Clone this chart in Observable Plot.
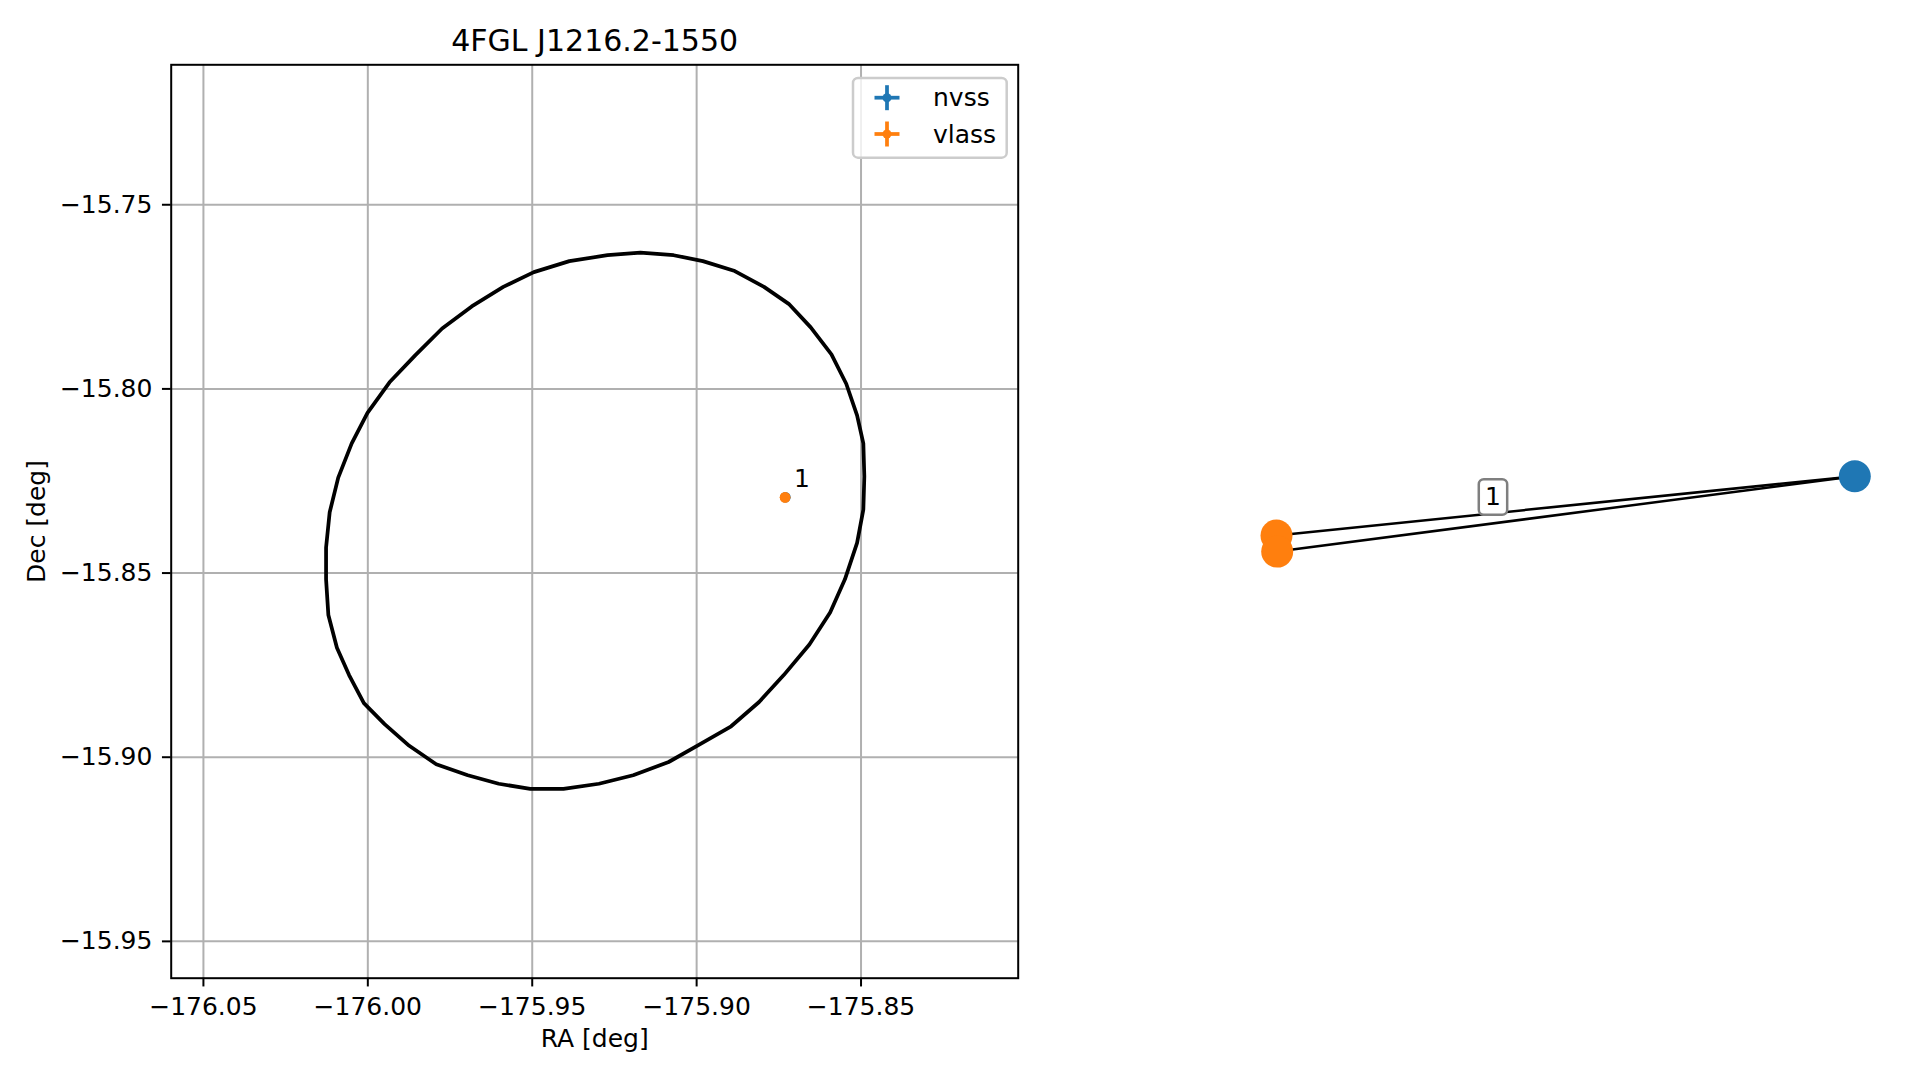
<!DOCTYPE html>
<html><head><meta charset="utf-8">
<script src="https://cdn.jsdelivr.net/npm/d3@7"></script>
<script src="https://cdn.jsdelivr.net/npm/@observablehq/plot@0.6"></script>
<style>
body{margin:0;background:#fff;}
#wrap{position:relative;width:1919px;height:1080px;overflow:hidden;background:#fff;}
#left{position:absolute;left:0;top:0;width:1100px;height:1080px;}
#right{position:absolute;left:1100px;top:0;width:819px;height:1080px;}
</style></head><body><div id="wrap"><div id="left"></div><div id="right"></div></div>
<script>
// ---- data ----
const title = "4FGL J1216.2-1550";
const xLabel = "RA [deg]";
const yLabel = "Dec [deg]";
const xTicks = [-176.05, -176.00, -175.95, -175.90, -175.85];
const yTicks = [-15.95, -15.90, -15.85, -15.80, -15.75];
const xDomain = [-176.0598, -175.8022];
const yDomain = [-15.9600, -15.7120];

const ellipseRa = [-175.9271, -175.9171, -175.9070, -175.8981, -175.8884, -175.8795, -175.8720, -175.8653, -175.8590, -175.8545,
  -175.8512, -175.8493, -175.8490, -175.8493, -175.8512, -175.8549, -175.8594, -175.8657, -175.8735, -175.8810,
  -175.8895, -175.8992, -175.9085, -175.9193, -175.9297, -175.9405, -175.9506, -175.9602, -175.9696, -175.9792,
  -175.9874, -175.9949, -176.0012, -176.0057, -176.0094, -176.0120, -176.0127, -176.0127, -176.0116, -176.0090,
  -176.0049, -176.0001, -175.9934, -175.9856, -175.9774, -175.9684, -175.9588, -175.9495, -175.9387, -175.9271];
const ellipseDec = [-15.7637, -15.7630, -15.7637, -15.7653, -15.7680, -15.7723, -15.7769, -15.7833, -15.7906, -15.7986,
  -15.8072, -15.8148, -15.8238, -15.8328, -15.8418, -15.8517, -15.8607, -15.8694, -15.8777, -15.8850,
  -15.8916, -15.8966, -15.9013, -15.9049, -15.9072, -15.9086, -15.9086, -15.9072, -15.9049, -15.9019,
  -15.8969, -15.8910, -15.8853, -15.8777, -15.8703, -15.8614, -15.8517, -15.8431, -15.8335, -15.8241,
  -15.8148, -15.8065, -15.7982, -15.7909, -15.7836, -15.7776, -15.7723, -15.7683, -15.7653, -15.7637];

const surveys = ["nvss", "vlass"];
const surveyColors = ["#1f77b4", "#ff7f0e"];

const srcSurvey = ["nvss", "vlass", "vlass"];
const srcRa = [-175.8730, -175.8731, -175.8731];
const srcDec = [-15.8294, -15.8294, -15.8295];

const matchLabel = ["1"];
const matchRa = [-175.8731];
const matchDec = [-15.8294];

// association graph (layout coordinates)
const nodeId = ["nvss_1", "vlass_1", "vlass_2"];
const nodeSurvey = ["nvss", "vlass", "vlass"];
const nodeX = [1.0, -1.0, -0.9976];
const nodeY = [0.130, -0.075, -0.1307];
const edgeSource = ["vlass_1", "vlass_2"];
const edgeTarget = ["nvss_1", "nvss_1"];
const edgeLabel = ["1"];
const edgeLabelX = [-0.2513];
const edgeLabelY = [0.0564];
const graphXDomain = [-1.6087, 1.2238];
const graphYDomain = [-1.9599, 1.7752];

// ---- build tables ----
const ellipse = ellipseRa.map((ra, i) => ({ra, dec: ellipseDec[i]}));
const sources = srcRa.map((ra, i) => ({ra, dec: srcDec[i], survey: srcSurvey[i]}));
const matches = matchLabel.map((t, i) => ({t, ra: matchRa[i], dec: matchDec[i]}));
const nodes = nodeId.map((id, i) => ({id, x: nodeX[i], y: nodeY[i], survey: nodeSurvey[i]}));
const nodeById = new Map(nodes.map(n => [n.id, n]));
const edges = edgeSource.map((s, i) => ({s: nodeById.get(s), t: nodeById.get(edgeTarget[i])}));
const elabels = edgeLabel.map((t, i) => ({t, x: edgeLabelX[i], y: edgeLabelY[i]}));

const font = "DejaVu Sans, sans-serif";
const fmt = d3.format(".2f");
const gridStyle = {stroke: "#b0b0b0", strokeOpacity: 1, strokeWidth: 2};

const left = Plot.plot({
  width: 1100, height: 1080,
  marginLeft: 170.7, marginRight: 82.3, marginTop: 64.3, marginBottom: 102.3,
  style: {fontFamily: font, fontSize: "25px", background: "white", color: "black"},
  x: {domain: xDomain},
  y: {domain: yDomain},
  color: {domain: surveys, range: surveyColors},
  marks: [
    Plot.gridX(xTicks, gridStyle),
    Plot.gridY(yTicks, gridStyle),
    Plot.line(ellipse, {x: "ra", y: "dec", stroke: "black", strokeWidth: 3.75}),
    Plot.dot(sources, {x: "ra", y: "dec", r: 5.3, fill: "survey", stroke: "none"}),
    Plot.text(matches, {x: "ra", y: "dec", text: "t", dx: 9, dy: -10, textAnchor: "start", lineAnchor: "bottom", fontSize: 25}),
    Plot.axisX(xTicks, {tickSize: 8.75, tickPadding: 10, tickFormat: fmt, strokeWidth: 2, label: null, fontSize: 25}),
    Plot.axisY(yTicks, {tickSize: 8.75, tickPadding: 10, tickFormat: fmt, strokeWidth: 2, label: null, fontSize: 25}),
    Plot.frame({stroke: "black", strokeWidth: 2}),
    Plot.text([title], {text: d => d, frameAnchor: "top", dy: -14.3, textAnchor: "middle", lineAnchor: "bottom", fontSize: 30}),
    Plot.text([xLabel], {text: d => d, frameAnchor: "bottom", dy: 69, textAnchor: "middle", lineAnchor: "bottom", fontSize: 25}),
    Plot.text([yLabel], {text: d => d, frameAnchor: "left", dx: -126.2, rotate: -90, textAnchor: "middle", lineAnchor: "bottom", fontSize: 25})
  ]
});
document.getElementById("left").appendChild(left);

// legend (upper right inside axes)
{
  const g = d3.select(left).append("g").attr("font-family", font).attr("font-size", 25).attr("text-anchor", "start");
  g.append("rect").attr("x", 853).attr("y", 78).attr("width", 153.7).attr("height", 79.7)
    .attr("rx", 5).attr("fill", "white").attr("fill-opacity", 0.8)
    .attr("stroke", "#cccccc").attr("stroke-width", 2.5);
  const ys = [97.7, 134];
  surveys.forEach((s, i) => {
    const y = ys[i], c = surveyColors[i], cx = 887;
    g.append("line").attr("x1", cx - 12.5).attr("x2", cx + 12.5).attr("y1", y).attr("y2", y).attr("stroke", c).attr("stroke-width", 3.75);
    g.append("line").attr("x1", cx).attr("x2", cx).attr("y1", y - 12.5).attr("y2", y + 12.5).attr("stroke", c).attr("stroke-width", 3.75);
    g.append("circle").attr("cx", cx).attr("cy", y).attr("r", 4.5).attr("fill", c);
    g.append("text").attr("x", 933).attr("y", y + 8.5).attr("text-anchor", "start").attr("fill", "black").text(s);
  });
}

const right = Plot.plot({
  width: 819, height: 1080,
  marginLeft: 0, marginRight: 0, marginTop: 0, marginBottom: 0,
  style: {fontFamily: font, fontSize: "25px", background: "white", color: "black"},
  x: {domain: graphXDomain, axis: null},
  y: {domain: graphYDomain, axis: null},
  color: {domain: surveys, range: surveyColors},
  marks: [
    Plot.link(edges, {x1: d => d.s.x, y1: d => d.s.y, x2: d => d.t.x, y2: d => d.t.y, stroke: "black", strokeWidth: 2.5}),
    Plot.dot(nodes, {x: "x", y: "y", r: 16, fill: "survey", stroke: "none"}),
    Plot.text(elabels, {x: "x", y: "y", text: "t", fontSize: 25, ariaLabel: "edge-label"})
  ]
});
document.getElementById("right").appendChild(right);

// rounded boxes behind edge labels
d3.select(right).selectAll("text").each(function() {
  if (!this.textContent || this.textContent.trim() !== "1") return;
  const b = this.getBBox();
  const cx = b.x + b.width / 2, cy = b.y + b.height / 2;
  const r = document.createElementNS("http://www.w3.org/2000/svg", "rect");
  r.setAttribute("x", cx - 14.2); r.setAttribute("y", cy - 17.85);
  r.setAttribute("width", 28.4); r.setAttribute("height", 35.7);
  r.setAttribute("rx", 5); r.setAttribute("fill", "white");
  r.setAttribute("stroke", "#7f7f7f"); r.setAttribute("stroke-width", 2.5);
  const tr = this.getAttribute("transform");
  if (tr) r.setAttribute("transform", tr);
  this.parentNode.insertBefore(r, this);
});
</script></body></html>
